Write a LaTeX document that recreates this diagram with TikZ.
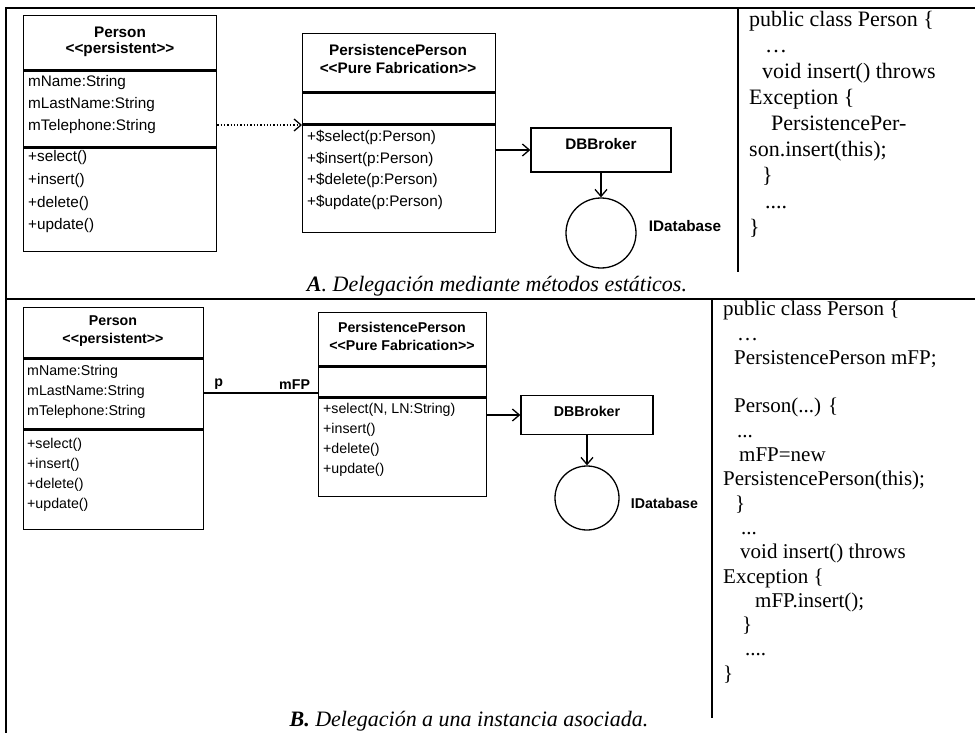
\documentclass[tikz,border=0pt]{standalone}
\usepackage{fontspec}
\setmainfont{Liberation Serif}
\newfontfamily\umlfont{Liberation Sans}
\usetikzlibrary{arrows.meta,positioning}
\newcommand\umlA{\umlfont\fontsize{15.3}{18}\selectfont}
\newcommand\umlB{\umlfont\fontsize{14.2}{17}\selectfont}
\newcommand\codeA{\fontsize{22}{26}\selectfont}
\newcommand\codeB{\fontsize{21}{24.3}\selectfont}
\begin{document}
\begin{tikzpicture}[x=1pt,y=-1pt,
  frame/.style={line width=2.2pt},
  comp/.style={draw,line width=1.3pt,anchor=north west,inner sep=0pt},
  txt/.style={anchor=west,inner sep=0pt},
  head/.style={inner sep=0pt},
  broker/.style={draw,line width=1.3pt,inner sep=0pt,text height=11pt},
  iface/.style={draw,circle,line width=1.3pt,inner sep=0pt},
  arr/.style={line width=1.3pt,-{Straight Barb[length=7pt,width=12pt]}},
  codebox/.style={anchor=north west,align=flush left,text width=240pt,inner sep=0pt}]
\useasboundingbox (0,0) rectangle (975,733);
% table frame
\draw[frame] (6,733)--(6,8)--(975,8);
\draw[frame] (6,299)--(975,299);
\draw[frame] (738,8)--(738,272);
\draw[frame] (712,299)--(712,718);
% ---- A ----
\node[comp,minimum width=193pt,minimum height=54pt] (perAh) at (23,15) {};
\node[comp,minimum width=193pt,minimum height=76pt] (perAa) at (perAh.south west) {};
\node[comp,minimum width=193pt,minimum height=103pt] (perAm) at (perAa.south west) {};
\node[head,font=\umlA\bfseries] at (120,32) {Person};
\node[head,font=\umlA\bfseries] at (120,50) {<{}<persistent>{}>};
\foreach \ky/\lb in {83/mName:String,105/mLastName:String,127/mTelephone:String}{\node[txt,font=\umlA] at (28,\ky) {\lb};}
\foreach \ky/\lb in {158/+select(),181/+insert(),204/+delete(),226/+update()}{\node[txt,font=\umlA] at (28,\ky) {\lb};}
\node[comp,minimum width=193pt,minimum height=58pt] (ppAh) at (302,33) {};
\node[comp,minimum width=193pt,minimum height=31pt] (ppAa) at (ppAh.south west) {};
\node[comp,minimum width=193pt,minimum height=107pt] (ppAm) at (ppAa.south west) {};
\node[head,font=\umlA\bfseries] at (398,50) {PersistencePerson};
\node[head,font=\umlA\bfseries] at (398,68) {<{}<Pure Fabrication>{}>};
\foreach \ky/\lb in {137/select,159/insert,180/delete,202/update}{\node[txt,font=\umlA] at (307,\ky) {+\$\lb(p:Person)};}
\node[broker,minimum width=140pt,minimum height=44pt,text depth=12pt,font=\umlA\bfseries] (dbA) at (601,150) {DBBroker};
\node[iface,minimum size=70pt] (idbA) at (601,233) {};
\node[head,font=\umlA\bfseries,right=12pt of idbA.east,yshift=7pt] {IDatabase};
\coordinate (dA) at (0,125);
\draw[arr,dotted] (perAa.east |- dA) -- (ppAm.west |- dA);
\draw[arr] (ppAm.east |- dbA) -- (dbA.west);
\draw[arr] (dbA.south) -- (idbA.north);
\node[font=\codeA] (capA) at (497,286) {\textbf{\textit{A}}\textit{. Delegación mediante métodos estáticos.}};
\node[codebox,font=\codeA] (codeA) at (749,11) {public class Person \{\\
\hspace*{16pt}…\\
\hspace*{13pt}void insert() throws\\
Exception \{\\
\hspace*{22pt}PersistencePer-\\
son.insert(this);\\
\hspace*{13pt}\}\\
\hspace*{16pt}....\\
\}};
% ---- B ----
\node[comp,minimum width=180pt,minimum height=50pt] (perBh) at (23,307) {};
\node[comp,minimum width=180pt,minimum height=70pt] (perBa) at (perBh.south west) {};
\node[comp,minimum width=180pt,minimum height=99pt] (perBm) at (perBa.south west) {};
\node[head,font=\umlB\bfseries] at (113,321) {Person};
\node[head,font=\umlB\bfseries] at (113,340) {<{}<persistent>{}>};
\foreach \ky/\lb in {372/mName:String,392/mLastName:String,412/mTelephone:String}{\node[txt,font=\umlB] at (27,\ky) {\lb};}
\foreach \ky/\lb in {445/+select(),465/+insert(),485/+delete(),505/+update()}{\node[txt,font=\umlB] at (27,\ky) {\lb};}
\node[comp,minimum width=168pt,minimum height=53pt] (ppBh) at (318,312) {};
\node[comp,minimum width=168pt,minimum height=30pt] (ppBa) at (ppBh.south west) {};
\node[comp,minimum width=168pt,minimum height=98pt] (ppBm) at (ppBa.south west) {};
\node[head,font=\umlB\bfseries] at (402,327) {PersistencePerson};
\node[head,font=\umlB\bfseries] at (402,345) {<{}<Pure Fabrication>{}>};
\foreach \ky/\lb in {410/{+select(N, LN:String)},430/+insert(),450/+delete(),470/+update()}{\node[txt,font=\umlB] at (323,\ky) {\lb};}
\node[broker,minimum width=132pt,minimum height=39pt,text depth=9pt,font=\umlB\bfseries] (dbB) at (587,415) {DBBroker};
\node[iface,minimum size=64pt] (idbB) at (587,498) {};
\node[head,font=\umlB\bfseries,right=11pt of idbB.east,yshift=-5pt] {IDatabase};
\coordinate (aB) at (0,393);
\draw[line width=1.3pt] (perBa.east |- aB) -- (ppBa.west |- aB)
  node[pos=0,above right,xshift=6pt,font=\umlB\bfseries]{p}
  node[pos=1,above left,xshift=-4pt,font=\umlB\bfseries]{mFP};
\draw[arr] (ppBm.east |- dbB) -- (dbB.west);
\draw[arr] (dbB.south) -- (idbB.north);
\node[font=\codeA] (capB) at (469,721) {\textbf{\textit{B.}} \textit{Delegación a una instancia asociada.}};
\node[codebox,font=\codeB] (codeB) at (723,301) {public class Person \{\\
\hspace*{14pt}…\\
\hspace*{11pt}PersistencePerson mFP;\\
\mbox{}\\
\hspace*{11pt}Person(...) \{\\
\hspace*{14pt}...\\
\hspace*{16pt}mFP=new\\
PersistencePerson(this);\\
\hspace*{12pt}\}\\
\hspace*{18pt}...\\
\hspace*{17pt}void insert() throws\\
Exception \{\\
\hspace*{32pt}mFP.insert();\\
\hspace*{19pt}\}\\
\hspace*{22pt}....\\
\}};
\end{tikzpicture}
\end{document}
